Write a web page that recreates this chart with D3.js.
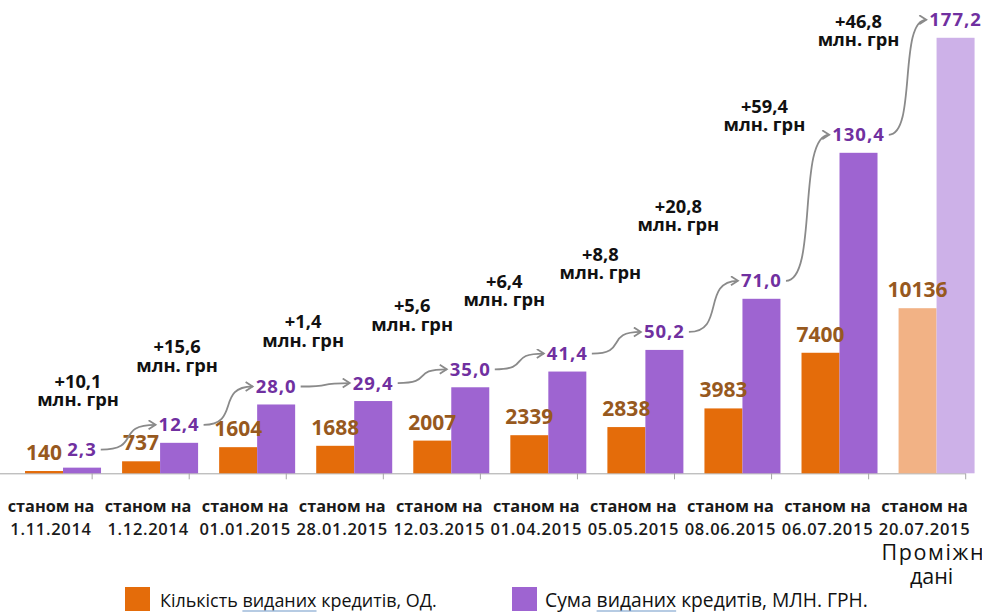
<!DOCTYPE html>
<html><head><meta charset="utf-8">
<script src="https://cdn.jsdelivr.net/npm/d3@7"></script>
<style>body{margin:0;background:#fff;} svg{display:block;}</style>
</head><body>
<svg id="chart" width="982" height="614"></svg>
<script>
// ---------- data ----------
const captionTop = "станом на";
const dates = ["1.11.2014","1.12.2014","01.01.2015","28.01.2015","12.03.2015","01.04.2015","05.05.2015","08.06.2015","06.07.2015","20.07.2015"];
const countValues = [140,737,1604,1688,2007,2339,2838,3983,7400,10136];
const sumValues = [2.3,12.4,28.0,29.4,35.0,41.4,50.2,71.0,130.4,177.2];
const countLabels = ["140","737","1604","1688","2007","2339","2838","3983","7400","10136"];
const sumLabels = ["2,3","12,4","28,0","29,4","35,0","41,4","50,2","71,0","130,4","177,2"];
const increments = ["+10,1","+15,6","+1,4","+5,6","+6,4","+8,8","+20,8","+59,4","+46,8"];
const incrementUnit = "млн. грн";
const seriesNames = ["Кількість виданих кредитів, ОД.","Сума виданих кредитів, МЛН. ГРН."];
const underlinedWord = "виданих";
const preliminaryNote = ["Проміжні","дані"];
const preliminaryIndex = 9;

// ---------- layout (not data) ----------
const annotDx = [-4,-2,27,39,34,33,14,3,0];
const annotDy = [-55,-51,-73,-75,-84,-89,-86,-40,-10];
const colors = {count:"#E46C0A", countLight:"#F2B285", sum:"#9E64D1", sumLight:"#CDB1E8",
                countText:"#97591E", sumText:"#7030A0", arrow:"#8A8A8A", axis:"#A6A6A6"};

const svg = d3.select("#chart");
svg.append("rect").attr("width",982).attr("height",614).attr("fill","#fff");
const baseY = 473.3, topY = 30.9;
const idx = d3.range(dates.length);
const x = d3.scaleBand().domain(idx).range([14.5,985.1]).paddingInner(0.217).paddingOuter(0.1085);
const xs = d3.scaleBand().domain(["count","sum"]).range([0,x.bandwidth()]);
const ySum = d3.scaleLinear().domain([0,180]).range([baseY, topY]);
const yCount = d3.scaleLinear().domain([0,27160]).range([baseY, topY]);
const center = i => x(i) + x.bandwidth()/2;
const sumCenter = i => x(i) + xs("sum") + xs.bandwidth()/2;
const countCenter = i => x(i) + xs("count") + xs.bandwidth()/2;

// axis line + ticks
const tickX = i => center(i) + 0.3*x.step();
svg.append("line").attr("x1",0).attr("x2",tickX(idx.length-1)).attr("y1",baseY+0.5).attr("y2",baseY+0.5)
  .attr("stroke",colors.axis).attr("stroke-width",1);
svg.selectAll("line.tick").data(idx).join("line").attr("class","tick")
  .attr("x1",i=>tickX(i)).attr("x2",i=>tickX(i)).attr("y1",baseY).attr("y2",baseY+6)
  .attr("stroke",colors.axis).attr("stroke-width",1);

// bars
svg.selectAll("rect.count").data(countValues).join("rect").attr("class","count")
  .attr("x",(d,i)=>x(i)+xs("count")).attr("width",xs.bandwidth())
  .attr("y",d=>yCount(d)).attr("height",d=>baseY-yCount(d))
  .attr("fill",(d,i)=> i===preliminaryIndex?colors.countLight:colors.count);
svg.selectAll("rect.sum").data(sumValues).join("rect").attr("class","sum")
  .attr("x",(d,i)=>x(i)+xs("sum")).attr("width",xs.bandwidth())
  .attr("y",d=>ySum(d)).attr("height",d=>baseY-ySum(d))
  .attr("fill",(d,i)=> i===preliminaryIndex?colors.sumLight:colors.sum);

// value labels
svg.selectAll("text.cl").data(countValues).join("text").attr("class","cl")
  .attr("x",(d,i)=>countCenter(i)).attr("y",d=>yCount(d)-11)
  .attr("text-anchor","middle").attr("font-family","'Open Sans'").attr("font-weight",700)
  .attr("font-size",21).attr("fill",colors.countText).text((d,i)=>countLabels[i]);
const sumLab = svg.selectAll("text.sl").data(sumValues).join("text").attr("class","sl")
  .attr("x",(d,i)=>sumCenter(i)).attr("y",d=>ySum(d)-11.5)
  .attr("text-anchor","middle").attr("font-family","'Open Sans'").attr("font-weight",700)
  .attr("font-size",18.5).attr("letter-spacing",1).attr("fill",colors.sumText).text((d,i)=>sumLabels[i]);

// arrows
const defs = svg.append("defs");
defs.append("marker").attr("id","chev").attr("markerUnits","userSpaceOnUse")
  .attr("markerWidth",12).attr("markerHeight",12).attr("refX",8).attr("refY",5).attr("orient","auto")
  .append("path").attr("d","M1,0.5 L8,5 L1,9.5").attr("fill","none").attr("stroke",colors.arrow).attr("stroke-width",1.8);
const boxes = sumLab.nodes().map(n=>n.getBBox());
increments.forEach((t,i)=>{
  const b0 = boxes[i], b1 = boxes[i+1];
  const x0 = b0.x + b0.width + 4, y0 = ySum(sumValues[i]) - 11.5 - 6.5;
  const x1 = b1.x - 3, y1 = ySum(sumValues[i+1]) - 11.5 - 6.5;
  const k = (x1-x0)*0.75;
  const p = d3.path(); p.moveTo(x0,y0); p.bezierCurveTo(x0+k,y0,x1-k,y1,x1,y1);
  svg.append("path").attr("d",p.toString()).attr("fill","none").attr("stroke",colors.arrow)
    .attr("stroke-width",1.8).attr("marker-end","url(#chev)");
  const ax = sumCenter(i) + annotDx[i], ay = ySum(sumValues[i+1]) + annotDy[i];
  const tt = svg.append("text").attr("text-anchor","middle").attr("font-family","'Open Sans'")
    .attr("font-weight",700).attr("font-size",18.3).attr("fill","#111");
  tt.append("tspan").attr("x",ax).attr("y",ay).text(t);
  tt.append("tspan").attr("x",ax).attr("y",ay+18.5).text(incrementUnit);
});

// category labels
const catG = svg.selectAll("text.cat").data(idx).join("text").attr("class","cat")
  .attr("text-anchor","middle").attr("font-family","'Open Sans'")
  .attr("fill","#1a1a1a");
catG.append("tspan").attr("x",i=>center(i)-12).attr("y",512).attr("font-weight",700).attr("font-size",16.3).text(captionTop);
catG.append("tspan").attr("x",i=>center(i)-12).attr("y",535).attr("font-weight",600).attr("font-size",16.5)
  .attr("letter-spacing",0.7).text(i=>dates[i]);

// preliminary note (runs off the right edge, as in the reference)
const pn = svg.append("text").attr("font-family","'Open Sans'").attr("font-size",21.5).attr("fill","#111");
pn.append("tspan").attr("x",center(preliminaryIndex)-55).attr("y",560).attr("letter-spacing",1.6).text(preliminaryNote[0]);
pn.append("tspan").attr("x",center(preliminaryIndex)-5).attr("y",584).attr("text-anchor","middle").text(preliminaryNote[1]);

// legend
const legendSpec = [{x:125, tx:160, tw:277, c:colors.count},{x:512, tx:545, tw:323, c:colors.sum}];
legendSpec.forEach((L,j)=>{
  svg.append("rect").attr("x",L.x).attr("y",587).attr("width",25).attr("height",24).attr("fill",L.c);
  const t = svg.append("text").attr("x",L.tx).attr("y",607).attr("font-family","'Open Sans'")
    .attr("font-size",17).attr("fill","#111").text(seriesNames[j]);
  const w = t.node().getComputedTextLength();
  t.attr("font-size",17*L.tw/w);
  const s = seriesNames[j].indexOf(underlinedWord);
  const n = t.node();
  const ux = L.tx + n.getSubStringLength(0,s);
  const uw = n.getSubStringLength(s,underlinedWord.length);
  svg.append("line").attr("x1",ux).attr("x2",ux+uw).attr("y1",611).attr("y2",611)
    .attr("stroke","#6F97C8").attr("stroke-width",1.2);
});
</script>
</body></html>
